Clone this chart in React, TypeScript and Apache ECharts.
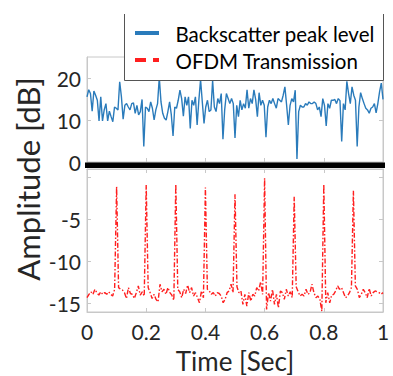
import React, { useEffect, useRef } from "react";
import * as echarts from "echarts";

const timeTicks = [0, 0.2, 0.4, 0.6, 0.8, 1];
const topTickValues = [0, 10, 20];
const bottomTickLabels = [-15, -10, -5];
const bottomTickMarks = [-15, -10, -5, 0];
const legendNames = ["Backscatter peak level", "OFDM Transmission"];
const xTitle = "Time [Sec]";
const yTitle = "Amplitude [dB]";

const backscatterPeak = [
  15.5, 17.2, 16.3, 12.1, 16.9, 15.9, 14.7, 9.8, 15.5, 9.8, 12.4, 13.9, 9.8, 12.1, 10.8, 9.6, 13.1, 12.8, 12.4, 19.1,
  15.5, 10.2, 13.5, 13.9, 13.1, 12.4, 13.9, 14.1, 11.6, 13.5, 11.2, 12.0, 14.9, 3.7, 13.1, 12.8, 12.0, 14.3, 12.8, 10.0,
  12.4, 13.9, 20.1, 14.3, 11.6, 10.4, 10.0, 12.0, 14.3, 11.2, 6.2, 13.1, 12.8, 14.7, 17.1, 15.1, 10.9, 15.5, 13.5, 15.5,
  8.0, 14.7, 13.5, 15.5, 8.8, 14.7, 19.6, 14.3, 9.2, 13.1, 14.7, 12.0, 12.4, 19.4, 13.1, 12.0, 15.1, 13.9, 16.3, 5.4,
  12.4, 16.3, 15.1, 13.9, 15.1, 13.9, 5.7, 13.5, 10.8, 14.7, 12.4, 13.9, 12.8, 17.2, 12.8, 15.1, 13.9, 17.2, 14.9, 10.8,
  16.5, 13.5, 14.7, 13.5, 5.9, 13.1, 14.7, 13.9, 15.1, 13.9, 12.8, 15.1, 14.7, 14.3, 15.9, 17.9, 13.5, 8.8, 13.5, 15.1,
  14.3, 17.1, 0.7, 12.0, 13.5, 13.1, 13.1, 13.9, 13.5, 14.3, 13.9, 13.9, 14.3, 13.9, 12.4, 13.1, 10.8, 15.1, 13.5, 8.6,
  13.9, 12.8, 14.7, 14.7, 14.9, 13.9, 15.1, 14.6, 4.9, 13.9, 12.4, 19.2, 16.3, 13.9, 17.9, 15.9, 14.7, 3.7, 13.1, 16.5,
  15.1, 13.9, 12.8, 12.4, 11.6, 12.8, 13.1, 13.9, 11.7, 13.9, 16.7, 18.8, 14.9,
];

const ofdmTransmission = [
  -14.3, -13.9, -13.6, -13.9, -13.3, -13.7, -14.0, -13.6, -13.9, -13.7, -13.9, -13.6, -13.9, -14.1, -13.3,
  -1.1,
  -13.1, -13.3, -13.4, -13.7, -14.4, -13.1, -13.8, -13.9, -14.4, -13.7, -12.9, -14.0, -13.6, -14.1,
  -0.9,
  -13.1, -13.7, -14.4, -13.9, -14.5, -14.8, -12.7, -13.6, -13.3, -13.9, -13.1, -13.7, -14.0, -14.6,
  -0.8,
  -13.3, -13.6, -14.3, -13.3, -13.8, -12.8, -13.7, -13.1, -14.1, -13.7, -14.3, -14.9, -13.5, -14.3,
  -1.2,
  -13.3, -13.5, -13.9, -13.7, -14.1, -13.7, -13.8, -14.1, -14.9, -14.5, -13.7, -13.5, -12.7, -13.7,
  -2.0,
  -13.0, -13.7, -13.5, -15.1, -13.9, -15.3, -13.7, -14.7, -13.9, -14.1, -13.1, -13.5, -12.4, -13.9,
  -0.1,
  -15.7, -13.7, -14.7, -13.3, -15.1, -13.9, -15.5, -13.5, -13.7, -14.5, -13.3, -14.1, -13.6, -14.3,
  -2.3,
  -13.0, -13.6, -14.1, -13.9, -14.1, -13.3, -13.9, -13.7, -12.7, -13.7, -14.3, -14.1, -14.5, -15.9,
  -0.8,
  -14.9, -13.7, -14.9, -14.0, -13.9, -13.5, -12.9, -13.3, -13.1, -13.7, -14.3, -14.1, -13.7, -13.1,
  -1.6,
  -12.9, -13.3, -14.3, -13.9, -13.3, -13.7, -14.3, -13.2, -14.1, -13.7, -13.5, -13.6, -13.7, -13.9, -13.7,
];

const FONT = "Lato";
const TEXT = "#262626";
const GRAY = "#c8c8c8";
const BLUE = "#2a7bbb";
const RED = "#ff1f1f";

export default function App() {
  const ref = useRef<HTMLDivElement>(null);

  useEffect(() => {
    const chart = echarts.init(ref.current!, null, { renderer: "svg" });
    const toPairs = (arr: number[]) => arr.map((v, i) => [i / (arr.length - 1), v]);

    const tickStyle = { show: true, inside: true, length: 4, lineStyle: { color: GRAY } };
    const xAx = (gridIndex: number, position: string, labels: boolean) => ({
      type: "value",
      gridIndex,
      position,
      min: 0,
      max: 1,
      interval: 0.2,
      axisLine: { show: true, onZero: false, lineStyle: { color: GRAY } },
      axisTick: tickStyle,
      splitLine: { show: false },
      axisLabel: {
        show: labels,
        customValues: timeTicks,
        margin: 9,
        color: TEXT,
        fontFamily: FONT,
        fontSize: 21,
        formatter: (v: number) => String(v),
      },
    });
    const yAx = (gridIndex: number, position: string, min: number, max: number, labels: boolean, labelVals: number[], tickVals: number[]) => ({
      type: "value",
      gridIndex,
      position,
      min,
      max,
      axisLine: { show: true, onZero: false, lineStyle: { color: GRAY } },
      axisTick: { ...tickStyle, customValues: tickVals },
      splitLine: { show: false },
      axisLabel: {
        show: labels,
        customValues: labelVals,
        margin: 6,
        color: TEXT,
        fontFamily: FONT,
        fontSize: 21,
      },
    });

    chart.setOption({
      animation: false,
      backgroundColor: "#ffffff",
      grid: [
        { left: 87, right: 10, top: 57, height: 105, show: true, borderColor: GRAY, borderWidth: 1 },
        { left: 87, right: 10, top: 169, height: 143, show: true, borderColor: GRAY, borderWidth: 1 },
      ],
      xAxis: [
        xAx(0, "bottom", false),
        xAx(1, "bottom", true),
        xAx(1, "top", false),
      ],
      yAxis: [
        yAx(0, "left", 0, 25, true, topTickValues, topTickValues),
        yAx(1, "left", -16, 1, true, bottomTickLabels, bottomTickMarks),
        yAx(0, "right", 0, 25, false, topTickValues, topTickValues),
        yAx(1, "right", -16, 1, false, bottomTickLabels, bottomTickMarks),
      ],
      series: [
        {
          name: legendNames[0],
          type: "line",
          xAxisIndex: 0,
          yAxisIndex: 0,
          data: toPairs(backscatterPeak),
          showSymbol: false,
          lineStyle: { color: BLUE, width: 1.4 },
        },
        {
          name: legendNames[1],
          type: "line",
          xAxisIndex: 1,
          yAxisIndex: 1,
          data: toPairs(ofdmTransmission),
          showSymbol: false,
          lineStyle: { color: RED, width: 1.4, type: [5, 2, 1.5, 2] },
        },
      ],
      graphic: [
        { type: "rect", shape: { x: 85, y: 162.5, width: 300, height: 5.6 }, style: { fill: "#000" }, z: 100 },
        { type: "rect", shape: { x: 124.5, y: 13, width: 259, height: 67.5 }, style: { fill: "#fff", stroke: null }, z: 100 },
        { type: "polyline", shape: { points: [[124.5, 14], [124.5, 80.5], [383.5, 80.5], [383.5, 14]] }, style: { stroke: "#555", lineWidth: 1, fill: null }, z: 101 },
        { type: "line", shape: { x1: 135, y1: 33, x2: 159, y2: 33 }, style: { stroke: BLUE, lineWidth: 4 }, z: 101 },
        { type: "line", shape: { x1: 135, y1: 60, x2: 159, y2: 60 }, style: { stroke: RED, lineWidth: 4, lineDash: [11, 7, 5, 0] }, z: 101 },
        {
          type: "text", x: 175.5, y: 33.5, z: 101,
          style: { text: legendNames[0], fill: "#000", font: `20.5px ${FONT}`, align: "left", verticalAlign: "middle", textAlign: "left", textVerticalAlign: "middle" },
        },
        {
          type: "text", x: 175.5, y: 60.5, z: 101,
          style: { text: legendNames[1], fill: "#000", font: `20.5px ${FONT}`, align: "left", verticalAlign: "middle", textAlign: "left", textVerticalAlign: "middle" },
        },
        {
          type: "text", x: 235, y: 361, z: 101,
          style: { text: xTitle, fill: TEXT, font: `26px ${FONT}`, align: "center", verticalAlign: "middle", textAlign: "center", textVerticalAlign: "middle" },
        },
        {
          type: "text", x: 28, y: 179, rotation: Math.PI / 2, z: 101,
          style: { text: yTitle, fill: TEXT, font: `31px ${FONT}`, align: "center", verticalAlign: "middle", textAlign: "center", textVerticalAlign: "middle" },
        },
      ],
    });

    return () => chart.dispose();
  }, []);

  return <div ref={ref} style={{ position: "absolute", left: 0, top: 0, width: 393, height: 376 }} />;
}
